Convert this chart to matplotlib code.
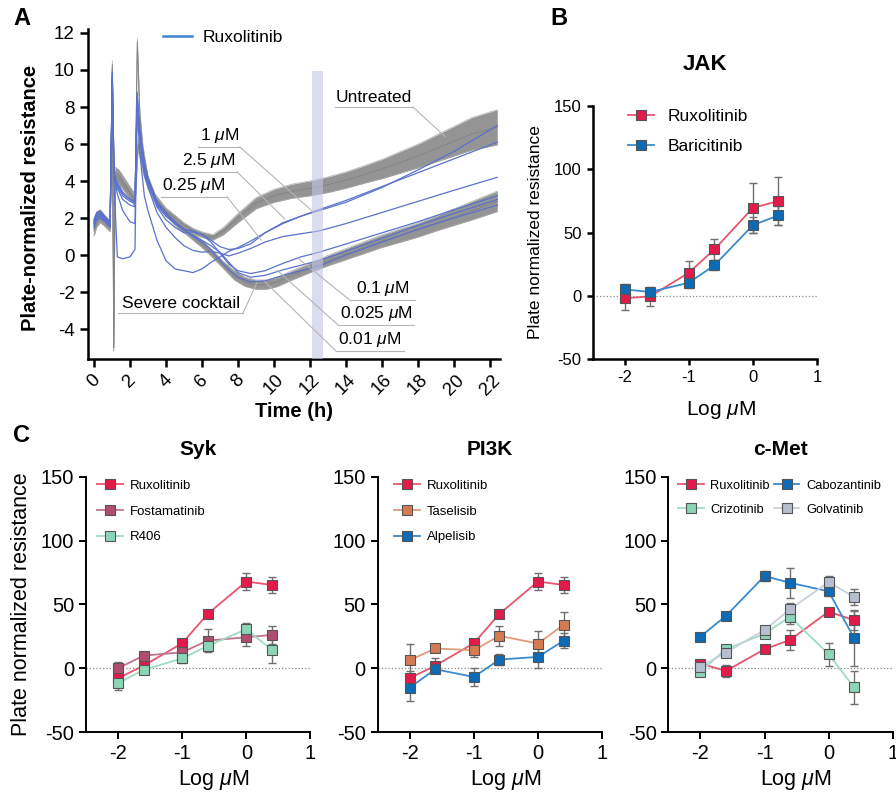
import numpy as np
import matplotlib
matplotlib.use("Agg")
import matplotlib.pyplot as plt
from matplotlib.lines import Line2D

plt.rcParams['font.family'] = ['Liberation Sans', 'DejaVu Sans']
plt.rcParams['mathtext.fontset'] = 'custom'
plt.rcParams['mathtext.rm'] = 'Liberation Sans'
plt.rcParams['mathtext.it'] = 'Liberation Sans:italic'
plt.rcParams['mathtext.bf'] = 'Liberation Sans:bold'
plt.rcParams['axes.unicode_minus'] = False

# ---------------- panel A : impedance traces ----------------
ut_t = [0.0, 0.15, 0.35, 0.6, 0.9, 1.02, 1.1, 1.18, 1.4, 1.8, 2.28, 2.41, 2.55, 2.72, 3.0, 3.4, 4.0, 4.5,
        5.0, 5.5, 6.0, 6.6, 7.2, 8.0, 9.0, 10.0, 11.0, 12.0, 13.0, 14.0, 15.0, 16.0, 17.0, 18.0, 19.0,
        20.0, 21.0, 22.4]
ut_mid = [1.4, 2.0, 2.2, 1.9, 1.6, 10.3, -5.0, 4.5, 4.3, 3.7, 3.0, 11.5, 7.5, 5.6, 4.0, 3.1, 2.4, 2.0,
          1.6, 1.3, 1.1, 0.95, 1.3, 2.0, 2.8, 3.2, 3.45, 3.6, 3.8, 4.05, 4.35, 4.65, 5.0, 5.35, 5.75,
          6.15, 6.55, 6.9]
ut_half = [0.3, 0.3, 0.25, 0.25, 0.25, 0.2, 0.2, 0.25, 0.3, 0.3, 0.3, 0.2, 0.3, 0.3, 0.25, 0.2, 0.15, 0.15,
           0.15, 0.15, 0.15, 0.15, 0.2, 0.25, 0.3, 0.35, 0.38, 0.4, 0.42, 0.44, 0.47, 0.52, 0.58, 0.64,
           0.72, 0.8, 0.88, 0.95]

sv_t = [0.0, 0.15, 0.35, 0.6, 0.9, 1.02, 1.1, 1.18, 1.4, 1.8, 2.28, 2.45, 2.72, 3.0, 3.4, 4.0, 4.5, 5.0,
        5.5, 6.0, 6.6, 7.2, 7.8, 8.4, 9.0, 9.6, 10.2, 11.0, 12.0, 13.0, 14.0, 15.0, 16.0, 17.0, 18.0,
        19.0, 20.0, 21.0, 22.4]
sv_mid = [1.3, 1.8, 2.0, 1.8, 1.5, 10.0, -5.0, 4.3, 4.1, 3.6, 2.9, 6.0, 4.8, 3.8, 3.0, 2.3, 1.8, 1.4,
          1.0, 0.6, 0.05, -0.55, -1.1, -1.45, -1.6, -1.6, -1.45, -1.1, -0.7, -0.3, 0.05, 0.4, 0.75,
          1.05, 1.35, 1.7, 2.05, 2.4, 2.9]
sv_half = [0.3, 0.3, 0.25, 0.25, 0.25, 0.2, 0.2, 0.25, 0.3, 0.3, 0.3, 0.3, 0.3, 0.25, 0.2, 0.2, 0.2, 0.2,
           0.2, 0.2, 0.2, 0.2, 0.25, 0.25, 0.25, 0.25, 0.25, 0.25, 0.25, 0.28, 0.3, 0.32, 0.34, 0.36,
           0.38, 0.4, 0.45, 0.5, 0.55]

bl_t = [0.0, 0.15, 0.35, 0.6, 0.9, 1.02, 1.12, 1.3, 1.6, 2.0, 2.28, 2.4, 2.55, 2.8, 3.0, 3.5, 4.0, 4.5,
        5.0, 5.5, 6.0, 6.5, 7.0, 7.5, 8.0, 8.7, 9.5, 10.5, 11.5, 12.5, 14.0, 16.0, 18.0, 20.0, 22.4]
rux_1um = [1.8, 2.2, 2.3, 2.0, 1.7, 9.6, 4.2, 3.3, 2.4, 1.8, 1.7, 8.6, 6.5, 4.8, 4.2, 2.6, 1.9, 1.5,
           1.2, 1.25, 1.1, 0.8, 0.45, 0.3, 0.35, 0.6, 1.2, 1.75, 2.1, 2.4, 2.85, 3.65, 4.6, 5.6, 7.0]
rux_2p5um = [1.6, 2.0, 2.1, 1.9, 1.6, 9.4, 3.8, -0.1, -0.2, -0.1, 0.3, 8.0, 5.5, 3.2, 2.4, 0.8, -0.3, -0.75,
             -0.85, -0.95, -0.75, -0.4, -0.1, 0.2, 0.4, 0.75, 1.2, 1.7, 2.1, 2.45, 2.95, 3.7, 4.45, 5.2, 6.1]
rux_0p25um = [1.9, 2.3, 2.4, 2.1, 1.8, 9.0, 4.0, 3.6, 3.0, 2.7, 2.6, 8.8, 6.2, 4.3, 3.7, 2.3, 1.5, 0.95,
              0.5, 0.25, 0.15, 0.2, 0.1, -0.05, 0.1, 0.35, 0.7, 1.0, 1.15, 1.3, 1.7, 2.3, 2.9, 3.5, 4.2]
rux_0p1um = [1.7, 2.1, 2.2, 1.9, 1.6, 9.8, 4.4, 3.9, 3.4, 3.0, 2.9, 8.4, 6.8, 5.0, 4.2, 2.9, 2.3, 1.8,
             1.4, 1.3, 1.1, 0.7, 0.1, -0.5, -0.85, -1.0, -0.85, -0.45, -0.1, 0.15, 0.6, 1.2, 1.8, 2.45, 3.2]
rux_0p025um = [1.8, 2.2, 2.3, 2.0, 1.7, 9.5, 4.1, 3.7, 3.2, 2.9, 2.8, 8.7, 6.4, 4.6, 3.9, 2.7, 2.1, 1.7,
               1.35, 1.05, 0.8, 0.5, 0.15, -0.4, -0.95, -1.2, -1.1, -0.8, -0.55, -0.3, 0.2, 0.9, 1.6, 2.25, 3.0]
rux_0p01um = [1.5, 1.9, 2.0, 1.8, 1.5, 9.9, 4.3, 3.8, 3.3, 3.0, 2.9, 8.2, 6.6, 4.9, 4.0, 2.8, 2.2, 1.75,
              1.35, 1.0, 0.7, 0.3, -0.3, -0.8, -1.2, -1.45, -1.4, -1.1, -0.85, -0.6, 0.0, 0.7, 1.4, 2.0, 2.7]

# label text, underline start/end (t), underline level, leader start t, leader target (t, value)
a_labels = [
    ("Untreated", 13.39, 17.72, 8.0, 17.72, 19.5, 6.4),
    ("1 $\\mu$M", 5.8, 8.1, 5.84, 8.1, 12.1, 2.4),
    ("2.5 $\\mu$M", 4.8, 7.95, 4.49, 7.95, 10.6, 1.95),
    ("0.25 $\\mu$M", 3.7, 7.4, 3.14, 7.4, 9.3, 0.8),
    ("Severe cocktail", 1.35, 8.28, -3.14, 8.28, 9.05, -1.5),
    ("0.1 $\\mu$M", 14.2, 17.83, -2.43, 14.2, 11.3, -0.15),
    ("0.025 $\\mu$M", 13.56, 17.78, -3.78, 13.56, 10.2, -0.85),
    ("0.01 $\\mu$M", 13.44, 17.22, -5.19, 13.44, 9.5, -1.45),
]

# ---------------- panels B/C : dose response ----------------
conc_um = [0.01, 0.025, 0.1, 0.25, 1, 2.5]
log_conc = np.log10(conc_um)

jak_rux = [-2, -0.5, 18.2, 36.6, 69.5, 74.8]
jak_rux_err = [9, 7.5, 9.5, 8, 19.5, 19]
jak_bari = [5, 3, 10.3, 24, 55.8, 63.5]
jak_bari_err = [4, 3, 4, 4, 6.5, 7.7]

rux_c = [-7.8, 2, 19.6, 42.6, 68, 65.3]
rux_c_err = [6, 6, 3, 2, 6.5, 6]
fosta = [0, 9.9, 12.5, 21.7, 24.3, 26.1]
fosta_err = [5, 3, 4, 9, 7, 7]
r406 = [-11.8, -1.3, 7.8, 17.5, 30.6, 14.4]
r406_err = [5, 3, 4, 4, 5, 10]

tase = [6.3, 15.5, 14.1, 25.4, 19.4, 34]
tase_err = [12.5, 2, 5, 8, 10, 10]
alpe = [-15.2, -0.8, -6.8, 6.8, 8.9, 21.5]
alpe_err = [10.5, 3, 7, 4, 9, 6]

rux_met = [3.7, -2.1, 14.9, 22.2, 44.4, 37.6]
rux_met_err = [3, 5, 3, 8, 2, 7.5]
cabo = [24.8, 41, 72.3, 67, 60.3, 23.5]
cabo_err = [2, 2, 4, 12, 4, 22]
crizo = [-2.6, 14.9, 27.1, 40.4, 11, -15.1]
crizo_err = [2, 2, 3, 6, 9, 13]
golva = [1.3, 12.3, 30, 46.2, 67.6, 55.8]
golva_err = [3, 3, 3, 5, 5, 6]

RED = ('#e31a4a', '#e8556f')
BLUE = ('#0d6ab5', '#3a8ad0')
MAUVE = ('#b04e70', '#c2738d')
MINT = ('#8dd5b7', '#9fdcc3')
ORANGE = ('#d57b52', '#e29b7a')
SLATE = ('#b7bfcf', '#c9cfdb')

fig = plt.figure(figsize=(8.96, 7.96), dpi=100)

# ---- A ----
axA = fig.add_axes([0.0982, 0.549, 0.4598, 0.4142])
for t, m, h in [(ut_t, ut_mid, ut_half), (sv_t, sv_mid, sv_half)]:
    m = np.array(m)
    h = np.array(h)
    axA.fill_between(t, m - h, m + h, color='#949494', lw=0, zorder=1)
    axA.plot(t, m - h, color='#aaaaaa', lw=0.5, zorder=1)
    axA.plot(t, m + h, color='#aaaaaa', lw=0.5, zorder=1)
    axA.plot(t, m, color='#858585', lw=0.7, zorder=1.5)
for y in [rux_1um, rux_2p5um, rux_0p25um, rux_0p1um, rux_0p025um, rux_0p01um]:
    axA.plot(bl_t, y, color='#5a72cc', lw=0.9, zorder=2)
axA.fill_between([12.1, 12.7], -5.62, 9.95, color='#c3c6e4', alpha=0.6, lw=0, zorder=3)

for txt, x0, x1, yl, xs, xt, yt in a_labels:
    axA.plot([x0, x1], [yl, yl], color='#b5b5b5', lw=0.8, zorder=4)
    axA.plot([xs, xt], [yl, yt], color='#b5b5b5', lw=0.8, zorder=4)
    axA.text((x0 + x1) / 2, yl + 0.12, txt, ha='center', va='bottom', fontsize=12.5, zorder=5)

axA.set_xlim(-0.33, 22.55)
axA.set_ylim(-5.62, 12.2)
axA.set_xticks(range(0, 23, 2))
axA.set_xticklabels([str(v) for v in range(0, 23, 2)], rotation=45)
axA.set_yticks(range(-4, 13, 2))
axA.tick_params(labelsize=13.5, width=1.8, length=5.5)
axA.tick_params(axis='y', length=6)
for s in ['top', 'right']:
    axA.spines[s].set_visible(False)
for s in ['left', 'bottom']:
    axA.spines[s].set_linewidth(1.8)
axA.set_xlabel('Time (h)', fontsize=14.5, fontweight='bold', va='center')
axA.xaxis.set_label_coords(0.5, -0.158)
axA.set_ylabel('Plate-normalized resistance', fontsize=14.5, fontweight='bold', va='center')
axA.yaxis.set_label_coords(-0.14, 0.49)
axA.legend([Line2D([0], [0], color='#3a86d0', lw=1.8)], ['Ruxolitinib'], loc='upper left',
           bbox_to_anchor=(0.182, 0.997), frameon=False, fontsize=12.5, handlelength=1.7,
           handletextpad=0.6, borderaxespad=0, borderpad=0)


def dose_panel(ax, series, tick_fs, label_fs, ms, spine_w, tick_len):
    ax.axhline(0, color='#8a8a8a', lw=0.9, ls=':', zorder=0)
    for vals, errs, (fc, lc), name in series:
        ax.errorbar(log_conc, vals, yerr=errs, fmt='none', ecolor='#707070', elinewidth=1.0,
                    capsize=3, capthick=1.0, zorder=2)
        ax.plot(log_conc, vals, color=lc, lw=1.3, marker='s', ms=ms, mfc=fc, mec='#555555',
                mew=0.8, label=name, zorder=3)
    ax.set_xlim(-2.5, 1)
    ax.set_ylim(-50, 150)
    ax.set_xticks([-2, -1, 0, 1])
    ax.set_yticks([-50, 0, 50, 100, 150])
    ax.tick_params(labelsize=tick_fs, width=spine_w, length=tick_len)
    for s in ['top', 'right']:
        ax.spines[s].set_visible(False)
    for s in ['left', 'bottom']:
        ax.spines[s].set_linewidth(spine_w)
    ax.set_xlabel('Log $\\mu$M', fontsize=label_fs, va='center')


# ---- B ----
axB = fig.add_axes([0.6615, 0.549, 0.2503, 0.3178])
dose_panel(axB, [(jak_rux, jak_rux_err, RED, 'Ruxolitinib'),
                 (jak_bari, jak_bari_err, BLUE, 'Baricitinib')], 12, 15, 6.7, 1.8, 4.5)
axB.xaxis.set_label_coords(0.57, -0.2)
axB.set_ylabel('Plate normalized resistance', fontsize=12.5, va='center')
axB.yaxis.set_label_coords(-0.255, 0.5)
axB.set_title('JAK', fontsize=16, fontweight='bold', pad=26)
axB.legend(loc='upper left', bbox_to_anchor=(0.156, 0.99), frameon=False, fontsize=12.5,
           handlelength=1.5, handletextpad=0.8, labelspacing=0.85, borderaxespad=0, borderpad=0)

# ---- C ----
c_left = [0.096, 0.4215, 0.7459]
c_series = [
    ('Syk', [(rux_c, rux_c_err, RED, 'Ruxolitinib'), (fosta, fosta_err, MAUVE, 'Fostamatinib'),
             (r406, r406_err, MINT, 'R406')]),
    ('PI3K', [(rux_c, rux_c_err, RED, 'Ruxolitinib'), (tase, tase_err, ORANGE, 'Taselisib'),
              (alpe, alpe_err, BLUE, 'Alpelisib')]),
    ('c-Met', [(rux_met, rux_met_err, RED, 'Ruxolitinib'), (crizo, crizo_err, MINT, 'Crizotinib'),
               (cabo, cabo_err, BLUE, 'Cabozantinib'), (golva, golva_err, SLATE, 'Golvatinib')]),
]
leg_x = [0.049, 0.073, 0.043]
for i, (title, series) in enumerate(c_series):
    ax = fig.add_axes([c_left[i], 0.0804, 0.2505, 0.3204])
    dose_panel(ax, series, 14.5, 15.5, 7.2, 1.4, 5)
    ax.xaxis.set_label_coords(0.57, -0.188)
    ax.set_title(title, fontsize=15, fontweight='bold', pad=16)
    if i == 0:
        ax.set_ylabel('Plate normalized resistance', fontsize=15.5, va='center')
        ax.yaxis.set_label_coords(-0.286, 0.5)
    if i < 2:
        ax.legend(loc='upper left', bbox_to_anchor=(leg_x[i], 0.99), frameon=False, fontsize=9.5,
                  handlelength=2.0, handletextpad=0.5, labelspacing=1.03, borderaxespad=0,
                  borderpad=0, markerscale=1.05)
    else:
        ax.legend(loc='upper left', bbox_to_anchor=(leg_x[i], 0.99), frameon=False, fontsize=9.3,
                  ncol=2, handlelength=2.0, handletextpad=0.5, labelspacing=0.95,
                  columnspacing=0.3, borderaxespad=0, borderpad=0, markerscale=1.05)

fig.text(0.0145, 0.977, 'A', fontsize=17, fontweight='bold', va='center')
fig.text(0.614, 0.977, 'B', fontsize=17, fontweight='bold', va='center')
fig.text(0.0145, 0.453, 'C', fontsize=17, fontweight='bold', va='center')

fig.savefig('out.png', dpi=100)
